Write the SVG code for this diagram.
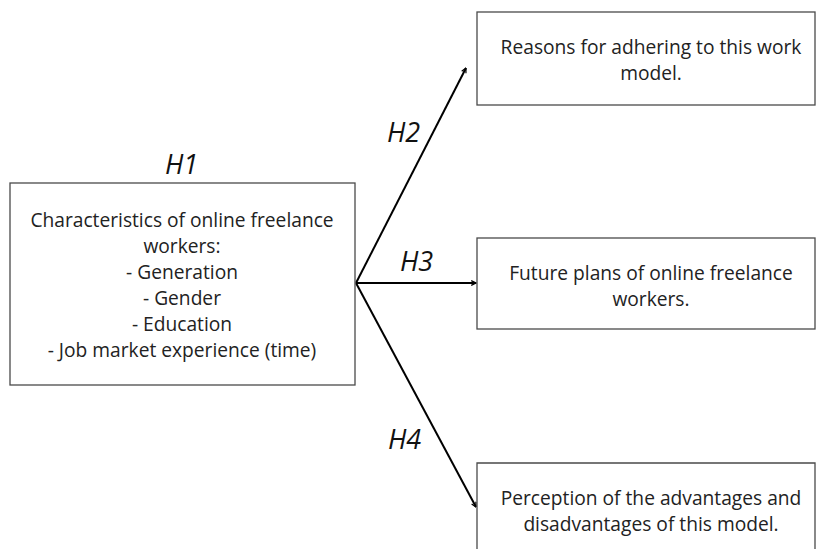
<svg xmlns="http://www.w3.org/2000/svg" width="816" height="549" viewBox="0 0 816 549">
<style>
.box{fill:#fff;stroke:#4a4a4a;stroke-width:1.3}
.t{font-family:"Open Sans","Noto Sans",sans-serif;font-size:19.2px;fill:#222;text-anchor:middle}
.h{font-family:"Open Sans","Noto Sans",sans-serif;font-size:27px;font-style:italic;fill:#111}
.c{stroke:#000;stroke-width:2;fill:none;marker-end:url(#ah)}
</style>
<defs>
<marker id="ah" viewBox="0 0 10 10" refX="9" refY="5" markerWidth="6" markerHeight="6" orient="auto" markerUnits="userSpaceOnUse">
<path d="M1,1 L9,5 L1,9" fill="none" stroke="#000" stroke-width="2"/>
</marker>
</defs>
<rect width="816" height="549" fill="#fff"/>
<g id="connectors">
<line class="c" x1="356" y1="283" x2="466" y2="68"/>
<line class="c" x1="356" y1="283" x2="476" y2="283"/>
<line class="c" x1="356" y1="283" x2="476" y2="507"/>
</g>
<g id="n1">
<rect class="box" x="10" y="183" width="345" height="202"/>
<text class="t" x="182" y="227">Characteristics of online freelance</text>
<text class="t" x="182" y="253">workers:</text>
<text class="t" x="182" y="279">- Generation</text>
<text class="t" x="182" y="305">- Gender</text>
<text class="t" x="182" y="331">- Education</text>
<text class="t" x="182" y="357">- Job market experience (time)</text>
</g>
<g id="n2">
<rect class="box" x="477" y="12" width="338" height="93"/>
<text class="t" x="651" y="54">Reasons for adhering to this work</text>
<text class="t" x="651" y="80">model.</text>
</g>
<g id="n3">
<rect class="box" x="477" y="238" width="338" height="91"/>
<text class="t" x="651" y="280">Future plans of online freelance</text>
<text class="t" x="651" y="306">workers.</text>
</g>
<g id="n4">
<path class="box" d="M477,549 V463 H815 V549"/>
<text class="t" x="651" y="505">Perception of the advantages and</text>
<text class="t" x="651" y="531">disadvantages of this model.</text>
</g>
<g id="labels">
<text class="h" x="165" y="174">H1</text>
<text class="h" x="387" y="142">H2</text>
<text class="h" x="400" y="271">H3</text>
<text class="h" x="388" y="449">H4</text>
</g>
</svg>
